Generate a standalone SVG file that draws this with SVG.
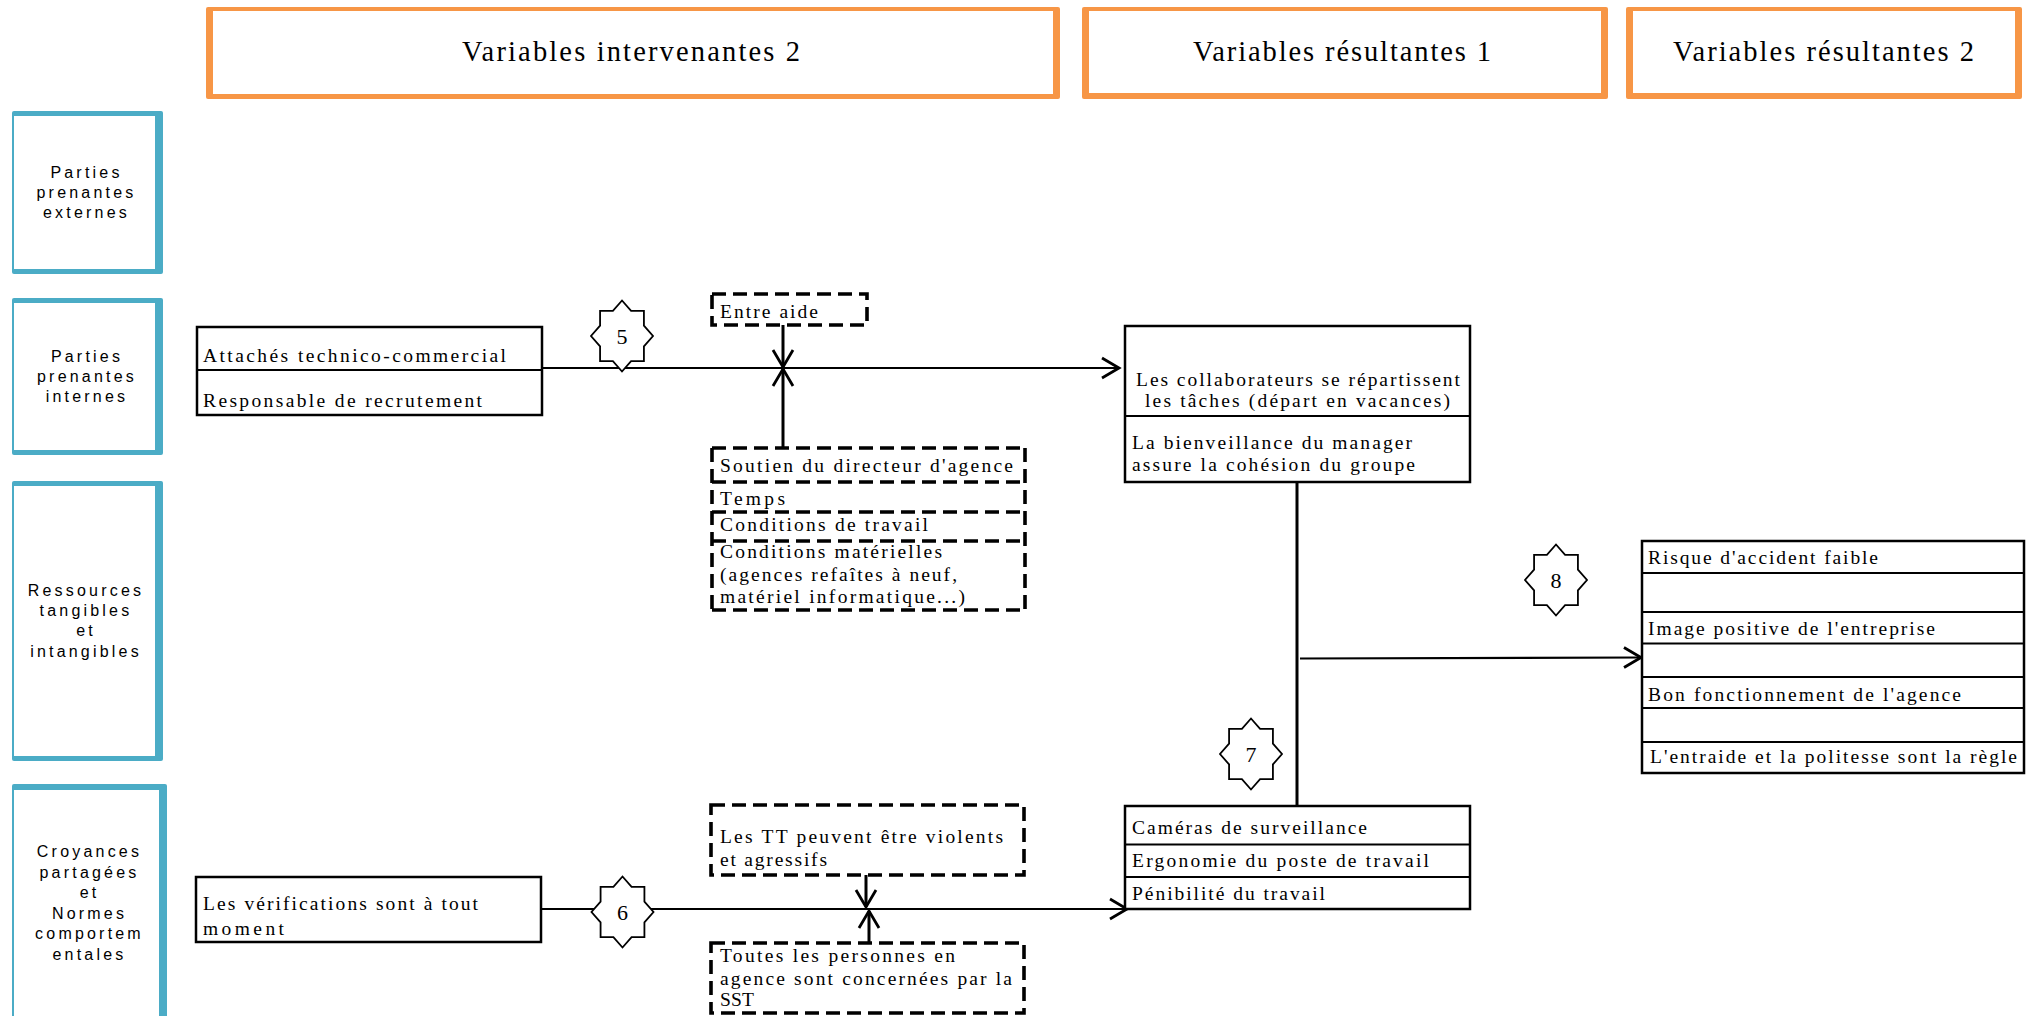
<svg xmlns="http://www.w3.org/2000/svg" xmlns:xlink="http://www.w3.org/1999/xlink" width="2026" height="1016" viewBox="0 0 2026 1016">
<style>
.ob{fill:#F79646}
.bb{fill:#4BACC6}
.wb{fill:#fff}
.box{fill:#fff;stroke:#000;stroke-width:2.5}
.dash{fill:#fff;stroke:#000;stroke-width:3.6;stroke-dasharray:14 7}
.ln{fill:none;stroke:#000;stroke-width:2.2}
.vln{fill:none;stroke:#000;stroke-width:3}
.t{font-family:"Liberation Serif","Times New Roman",serif;font-size:19.5px;fill:#000}
.h{font-family:"Liberation Serif","Times New Roman",serif;font-size:28.5px;fill:#000}
.s{font-family:"Liberation Sans",Arial,sans-serif;font-size:16px;letter-spacing:3.2px;text-anchor:middle;fill:#000}
.star{fill:#fff;stroke:#000;stroke-width:1.8}
.num{font-family:"Liberation Serif","Times New Roman",serif;font-size:22px;text-anchor:middle;fill:#000}
</style>
<defs>
<marker id="arr" markerUnits="userSpaceOnUse" viewBox="-24 -14 28 28" markerWidth="28" markerHeight="28" refX="0" refY="0" orient="auto">
<path d="M-17,-10 L0,0 L-17,10" fill="none" stroke="#000" stroke-width="2.8"/>
</marker>
<polygon id="star8" points="0,-35.5 9.08,-25.1 21.92,-25.1 21.92,-10.4 31,0 21.92,10.4 21.92,25.1 9.08,25.1 0,35.5 -9.08,25.1 -21.92,25.1 -21.92,10.4 -31,0 -21.92,-10.4 -21.92,-25.1 -9.08,-25.1"/>
</defs>
<rect width="2026" height="1016" fill="#fff"/>

<!-- Headers -->
<g id="hdr-intervenantes2">
<rect class="ob" x="206" y="7" width="854" height="92" rx="2"/>
<rect class="wb" x="213" y="11" width="840" height="83"/>
<text class="h" x="462" y="61" textLength="338" lengthAdjust="spacing">Variables intervenantes 2</text>
</g>
<g id="hdr-resultantes1">
<rect class="ob" x="1082" y="7" width="526" height="92" rx="2"/>
<rect class="wb" x="1089" y="11" width="512" height="82"/>
<text class="h" x="1193" y="61" textLength="298" lengthAdjust="spacing">Variables résultantes 1</text>
</g>
<g id="hdr-resultantes2">
<rect class="ob" x="1626" y="7" width="396" height="92" rx="2"/>
<rect class="wb" x="1633" y="11" width="382" height="82"/>
<text class="h" x="1673" y="61" textLength="301" lengthAdjust="spacing">Variables résultantes 2</text>
</g>

<!-- Row labels -->
<g id="row-externes">
<rect class="bb" x="12" y="111" width="151" height="163" rx="2"/>
<rect class="wb" x="14" y="116" width="141" height="153"/>
<text class="s" x="86.5" y="178">Parties</text>
<text class="s" x="86.5" y="198">prenantes</text>
<text class="s" x="86.5" y="218">externes</text>
</g>
<g id="row-internes">
<rect class="bb" x="12" y="298" width="151" height="157" rx="2"/>
<rect class="wb" x="14" y="303" width="141" height="147"/>
<text class="s" x="87" y="362">Parties</text>
<text class="s" x="87" y="382">prenantes</text>
<text class="s" x="87" y="402">internes</text>
</g>
<g id="row-ressources">
<rect class="bb" x="12" y="481" width="151" height="280" rx="2"/>
<rect class="wb" x="14" y="486" width="141" height="270"/>
<text class="s" x="86" y="596">Ressources</text>
<text class="s" x="86" y="616">tangibles</text>
<text class="s" x="86" y="636">et</text>
<text class="s" x="86" y="657">intangibles</text>
</g>
<g id="row-croyances">
<rect class="bb" x="12" y="784" width="155" height="250" rx="2"/>
<rect class="wb" x="14" y="790" width="145" height="240"/>
<text class="s" x="89.5" y="857">Croyances</text>
<text class="s" x="89.5" y="878">partagées</text>
<text class="s" x="89.5" y="898">et</text>
<text class="s" x="89.5" y="919">Normes</text>
<text class="s" x="89.5" y="939">comportem</text>
<text class="s" x="89.5" y="960">entales</text>
</g>

<!-- Connectors -->
<g id="connectors">
<line class="ln" x1="543" y1="368" x2="1119" y2="368" marker-end="url(#arr)"/>
<line class="vln" x1="783" y1="325" x2="783" y2="367" marker-end="url(#arr)"/>
<line class="vln" x1="783" y1="447" x2="783" y2="369" marker-end="url(#arr)"/>
<line class="ln" x1="541" y1="909" x2="1127" y2="909" marker-end="url(#arr)"/>
<line class="vln" x1="866" y1="875" x2="866" y2="907" marker-end="url(#arr)"/>
<line class="vln" x1="869" y1="942" x2="869" y2="911" marker-end="url(#arr)"/>
<line class="vln" x1="1297" y1="482" x2="1297" y2="806"/>
<line class="ln" x1="1300" y1="658.5" x2="1641" y2="657.5" stroke-width="2.6" marker-end="url(#arr)"/>
</g>

<!-- Nodes -->
<g id="n-attaches">
<rect class="box" x="197" y="327" width="345" height="88"/>
<line class="ln" x1="197" y1="370" x2="542" y2="370" stroke-width="2.5"/>
<text class="t" x="203" y="362" textLength="303" lengthAdjust="spacing">Attachés technico-commercial</text>
<text class="t" x="203" y="407" textLength="279" lengthAdjust="spacing">Responsable de recrutement</text>
</g>

<g id="n-entraide">
<rect class="dash" x="712" y="294" width="155" height="31"/>
<text class="t" x="720" y="317.5" textLength="98" lengthAdjust="spacing">Entre aide</text>
</g>

<g id="n-ressources-stack">
<rect x="712" y="448" width="313" height="162" fill="#fff"/>
<path class="dash" fill="none" d="M712,448 H1025 M712,482 H1025 M712,512 H1025 M712,541 H1025 M712,610 H1025 M712,448 V610 M1025,448 V610"/>
<text class="t" x="720" y="472" textLength="293" lengthAdjust="spacing">Soutien du directeur d'agence</text>
<text class="t" x="720" y="505" textLength="65" lengthAdjust="spacing">Temps</text>
<text class="t" x="720" y="531" textLength="208" lengthAdjust="spacing">Conditions de travail</text>
<text class="t" x="720" y="557.5" textLength="222" lengthAdjust="spacing">Conditions matérielles</text>
<text class="t" x="720" y="580.5" textLength="237" lengthAdjust="spacing">(agences refaîtes à neuf,</text>
<text class="t" x="720" y="602.5" textLength="245" lengthAdjust="spacing">matériel informatique...)</text>
</g>

<g id="n-collaborateurs">
<rect class="box" x="1125" y="326" width="345" height="156"/>
<line class="ln" x1="1125" y1="416" x2="1470" y2="416" stroke-width="2.5"/>
<text class="t" x="1136" y="386" textLength="324" lengthAdjust="spacing">Les collaborateurs se répartissent</text>
<text class="t" x="1145" y="407" textLength="305" lengthAdjust="spacing">les tâches (départ en vacances)</text>
<text class="t" x="1132" y="449" textLength="280" lengthAdjust="spacing">La bienveillance du manager</text>
<text class="t" x="1132" y="471" textLength="283" lengthAdjust="spacing">assure la cohésion du groupe</text>
</g>

<g id="n-resultats">
<rect class="box" x="1642" y="541" width="382" height="232"/>
<line class="ln" x1="1642" y1="573" x2="2024" y2="573" stroke-width="2.5"/>
<line class="ln" x1="1642" y1="612" x2="2024" y2="612" stroke-width="2.5"/>
<line class="ln" x1="1642" y1="643.5" x2="2024" y2="643.5" stroke-width="2.5"/>
<line class="ln" x1="1642" y1="677" x2="2024" y2="677" stroke-width="2.5"/>
<line class="ln" x1="1642" y1="708" x2="2024" y2="708" stroke-width="2.5"/>
<line class="ln" x1="1642" y1="742" x2="2024" y2="742" stroke-width="2.5"/>
<text class="t" x="1648" y="564" textLength="230" lengthAdjust="spacing">Risque d'accident faible</text>
<text class="t" x="1648" y="635" textLength="287" lengthAdjust="spacing">Image positive de l'entreprise</text>
<text class="t" x="1648" y="701" textLength="313" lengthAdjust="spacing">Bon fonctionnement de l'agence</text>
<text class="t" x="1650" y="763" textLength="367" lengthAdjust="spacing">L'entraide et la politesse sont la règle</text>
</g>

<g id="n-verifications">
<rect class="box" x="196" y="877" width="345" height="65"/>
<text class="t" x="203" y="910" textLength="275" lengthAdjust="spacing">Les vérifications sont à tout</text>
<text class="t" x="203" y="934.5" textLength="81" lengthAdjust="spacing">moment</text>
</g>

<g id="n-tt">
<rect class="dash" x="711" y="805" width="313" height="70"/>
<text class="t" x="720" y="843" textLength="283" lengthAdjust="spacing">Les TT peuvent être violents</text>
<text class="t" x="720" y="866" textLength="107" lengthAdjust="spacing">et agressifs</text>
</g>

<g id="n-toutes">
<rect class="dash" x="711" y="943" width="313" height="70"/>
<text class="t" x="720" y="962" textLength="235" lengthAdjust="spacing">Toutes les personnes en</text>
<text class="t" x="720" y="985" textLength="292" lengthAdjust="spacing">agence sont concernées par la</text>
<text class="t" x="720" y="1006" textLength="34" lengthAdjust="spacing">SST</text>
</g>

<g id="n-cameras">
<rect class="box" x="1125" y="806" width="345" height="103"/>
<line class="ln" x1="1125" y1="844.5" x2="1470" y2="844.5" stroke-width="2.5"/>
<line class="ln" x1="1125" y1="877" x2="1470" y2="877" stroke-width="2.5"/>
<text class="t" x="1132" y="833.5" textLength="235" lengthAdjust="spacing">Caméras de surveillance</text>
<text class="t" x="1132" y="867" textLength="297" lengthAdjust="spacing">Ergonomie du poste de travail</text>
<text class="t" x="1132" y="900" textLength="193" lengthAdjust="spacing">Pénibilité du travail</text>
</g>

<!-- Numbered stars -->
<g id="star-5">
<use xlink:href="#star8" href="#star8" class="star" transform="translate(622,336)"/>
<text class="num" x="622" y="344">5</text>
</g>
<g id="star-6">
<use xlink:href="#star8" href="#star8" class="star" transform="translate(622.5,912)"/>
<text class="num" x="622.5" y="920">6</text>
</g>
<g id="star-7">
<use xlink:href="#star8" href="#star8" class="star" transform="translate(1251,754)"/>
<text class="num" x="1251" y="762">7</text>
</g>
<g id="star-8">
<use xlink:href="#star8" href="#star8" class="star" transform="translate(1556,580)"/>
<text class="num" x="1556" y="588">8</text>
</g>
</svg>
